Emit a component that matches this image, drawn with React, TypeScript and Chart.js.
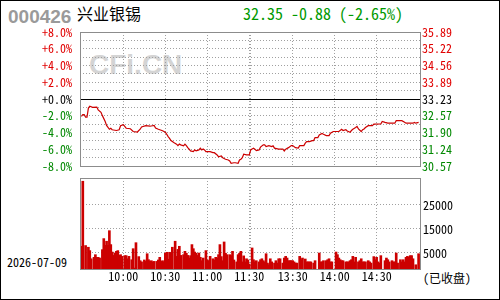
import React, { useEffect, useRef } from 'react';
import { Chart, registerables } from 'chart.js';

Chart.register(...registerables);

const MONO = '"Noto Sans Mono CJK SC", "Liberation Mono", monospace';
const RED = '#e00000';
const GREEN = '#008800';
const GRID = '#a0a0a0';
const BOX = '#8c8c8c';
const LINE_RED = '#cc0000';

const stockCode = '000426';
const stockName = '兴业银锡';
const quoteText = '32.35 -0.88 (-2.65%)';
const tradeDate = '2026-07-09';
const closedText = '(已收盘)';
const watermarkText = 'CFi.CN';
const prevClose = 33.23;

const pctTicks = [8, 6, 4, 2, 0, -2, -4, -6, -8];
const pctLabels = ['+8.0%', '+6.0%', '+4.0%', '+2.0%', '+0.0%', '-2.0%', '-4.0%', '-6.0%', '-8.0%'];
const priceLabels = ['35.89', '35.22', '34.56', '33.89', '33.23', '32.57', '31.90', '31.24', '30.57'];
const pctGrid = [8, 7, 6, 5, 4, 3, 2, 1, 0, -1, -2, -3, -4, -5, -6, -7, -8];

// minute slots: 0 = 09:30, 120 = 11:30, 121 = 13:00, 241 = 15:00
const timeSlots = [30, 60, 90, 120, 121, 151, 181, 211];
const timeLabels = ['10:00', '10:30', '11:00', '11:30', '', '13:30', '14:00', '14:30'];

const volTicks = [5000, 15000, 25000];
const volAxisMin = -1667;
const volAxisMax = 36250;

const priceSlots = [
  0, 1, 2, 3, 4, 5, 6, 8, 11, 12, 14, 15, 17, 18, 20, 21, 22, 25, 27, 28,
  30, 32, 35, 37, 40, 42, 43, 46, 49, 52, 53, 55, 58, 60, 61, 62, 63, 64, 65, 66,
  68, 69, 70, 71, 73, 74, 75, 76, 77, 78, 80, 81, 82, 84, 85, 86, 87, 88, 89, 92,
  94, 95, 97, 98, 100, 101, 103, 105, 106, 107, 109, 110, 112, 113, 114, 115, 116, 118, 120,
  121, 122, 123, 124, 125, 127, 128, 130, 131, 132, 134, 136, 137, 138, 141, 144, 145, 146, 148, 150,
  151, 153, 155, 156, 159, 160, 161, 163, 165, 166, 167, 169, 170, 172, 173, 175, 177, 178, 180, 184,
  186, 187, 189, 190, 192, 193, 194, 196, 197, 198, 200, 201, 202, 203, 205, 208, 209, 214, 215, 217,
  219, 224, 225, 229, 231, 232, 237, 238, 239, 241,
];
const prices = [
  32.54, 32.61, 32.61, 32.51, 32.51, 32.87, 32.94, 32.90, 32.91, 32.80, 32.70, 32.57, 32.34, 32.18, 32.03, 32.07, 32.01, 31.98, 32.01, 32.17,
  32.21, 32.07, 32.05, 31.94, 31.92, 32.03, 32.12, 32.17, 32.15, 32.18, 32.08, 32.03, 31.97, 31.91, 31.83, 31.74, 31.67, 31.58, 31.54, 31.50,
  31.44, 31.38, 31.44, 31.41, 31.37, 31.44, 31.38, 31.30, 31.24, 31.17, 31.14, 31.21, 31.17, 31.21, 31.28, 31.21, 31.25, 31.21, 31.14, 31.14,
  31.10, 31.10, 31.01, 30.94, 30.97, 30.90, 30.84, 30.81, 30.77, 30.68, 30.70, 30.70, 30.68, 30.81, 30.84, 30.90, 31.04, 31.01, 31.01,
  31.21, 31.25, 31.28, 31.24, 31.18, 31.21, 31.32, 31.41, 31.41, 31.34, 31.38, 31.34, 31.37, 31.28, 31.24, 31.24, 31.17, 31.24, 31.30, 31.38,
  31.38, 31.30, 31.28, 31.38, 31.38, 31.48, 31.54, 31.54, 31.58, 31.58, 31.70, 31.70, 31.80, 31.86, 31.83, 31.78, 31.78, 31.87, 31.94, 31.94,
  32.03, 31.98, 32.01, 31.96, 31.91, 31.98, 32.03, 32.10, 32.14, 32.04, 31.94, 32.01, 32.04, 32.10, 32.17, 32.17, 32.23, 32.24, 32.34, 32.30,
  32.27, 32.27, 32.37, 32.37, 32.31, 32.27, 32.27, 32.30, 32.27, 32.30,
];

const volSlots = [
  0, 1, 3, 5, 6, 7, 9, 10, 11, 12, 13, 15, 16, 17, 18, 19, 20, 21, 22, 23,
  24, 25, 26, 27, 28, 29, 31, 32, 33, 34, 36, 37, 38, 39, 41, 42, 43, 45, 46, 47,
  48, 49, 50, 51, 52, 54, 55, 56, 57, 58, 59, 60, 61, 62, 63, 64, 65, 67, 68, 69,
  70, 71, 73, 74, 75, 76, 77, 78, 79, 80, 81, 82, 83, 84, 85, 86, 87, 89, 90, 91,
  92, 94, 95, 96, 97, 98, 99, 100, 101, 102, 103, 104, 106, 107, 108, 109, 111, 112, 113, 114,
  115, 116, 117, 118, 119, 120,
  122, 123, 124, 125, 127, 128, 129, 130, 131, 132, 133, 134, 135, 136, 138, 139, 140, 141, 142, 144,
  145, 146, 147, 148, 149, 150, 151, 152, 153, 154, 156, 157, 158, 160, 161, 162, 163, 164, 166, 167,
  170, 171, 172, 173, 175, 176, 177, 178, 179, 182, 183, 184, 185, 186, 187, 189, 190, 191, 192, 193,
  194, 195, 196, 198, 199, 200, 201, 202, 203, 205, 206, 207, 209, 210, 211, 212, 213, 214, 217, 218,
  219, 220, 222, 223, 224, 225, 226, 228, 229, 230, 231, 232, 233, 234, 235, 236, 237, 239, 241,
];
const volumes = [
  7800, 34900, 8100, 7400, 6000, 2600, 3200, 4300, 3200, 3200, 2900, 6400, 11000, 8200, 9900, 8200, 14300, 8500, 5400, 4000,
  5000, 5700, 6000, 4000, 4300, 3600, 3900, 3900, 2600, 3600, 2200, 6800, -1300, 9300, 3500, 1800, 1300, 2100, 1500, 4700,
  2200, 1500, 1800, 1300, 1500, 1500, 2100, 3200, 1500, 1800, 1300, 4900, 5300, 2400, 5300, 5000, 7400, 9900, 3600, 6500,
  7800, 4000, 4300, 5700, 4900, 4000, 2900, 3900, 8500, 6800, 5400, 4900, 4000, 5000, 3200, 1800, 2900, 6000, 2100, 1800,
  3600, 2600, 2100, 3200, 2900, 4300, 8500, 3500, 1800, 9600, 4900, 4300, 4300, 3900, 5700, 2100, 1300, 4300, 4900, 5700,
  1300, 3800, 1300, 2600, 2100, 400,
  7100, 2200, 1300, 1800, 1300, 2200, 2600, 1800, 1300, 4700, 800, 100, 2600, 1300, 800, 1800, 800, 2600, 2600, 800,
  2900, 3600, 2900, 1800, 1800, 1800, 1800, 1300, 800, 800, 3600, 2200, 2900, 2500, 1300, 1300, 1300, 1300, 800, 1800,
  5000, 1300, 1300, 1800, 1800, 2200, 2600, 1300, 1300, 5400, 4300, 2900, 2200, 1800, 1800, 1300, 1300, 1300, 1800, 2200,
  3600, 1300, 3200, 1300, 1800, 2600, 1300, 1300, 1300, 1800, 1300, 800, 3500, 2200, 3200, 1300, 800, 3900, 1800, 2900,
  2200, 1300, 1800, 1300, 1300, 5000, 800, 2200, 1300, 2200, 1300, 3200, 3600, 3200, 3900, 3900, 2600, 100, 4700,
];

const tickFont = { family: MONO, size: 12 };

const fixWidth = (w: number) => (scale: any) => {
  scale.width = w;
};
const fixHeight = (h: number) => (scale: any) => {
  scale.height = h;
};

const boxPlugin = {
  id: 'boxFrame',
  afterDraw(chart: any) {
    const { ctx, chartArea: a } = chart;
    ctx.save();
    ctx.strokeStyle = BOX;
    ctx.lineWidth = 1;
    ctx.setLineDash([]);
    ctx.strokeRect(Math.round(a.left) + 0.5, Math.round(a.top) + 0.5, Math.round(a.right - a.left), Math.round(a.bottom - a.top));
    ctx.restore();
  },
};

const zeroLinePlugin = {
  id: 'zeroLine',
  beforeDatasetsDraw(chart: any) {
    const scale = chart.scales.yPct;
    if (!scale) return;
    const { ctx, chartArea: a } = chart;
    const y = Math.round(scale.getPixelForValue(0)) + 0.5;
    ctx.save();
    ctx.strokeStyle = '#000000';
    ctx.lineWidth = 1;
    ctx.beginPath();
    ctx.moveTo(a.left, y);
    ctx.lineTo(a.right, y);
    ctx.stroke();
    ctx.restore();
  },
};

const signColor = (v: number) => (v > 0.0001 ? RED : v < -0.0001 ? GREEN : '#000000');

export default function App() {
  const priceRef = useRef<HTMLCanvasElement>(null);
  const volRef = useRef<HTMLCanvasElement>(null);

  useEffect(() => {
    const timeGrid = (scale: any) => {
      scale.ticks = timeSlots.map((v) => ({ value: v }));
    };

    const priceChart = new Chart(priceRef.current as HTMLCanvasElement, {
      type: 'line',
      data: {
        datasets: [
          {
            data: priceSlots.map((s, i) => ({ x: s, y: prices[i] })),
            yAxisID: 'yPrice',
            xAxisID: 'x',
            borderColor: LINE_RED,
            borderWidth: 1.2,
            pointRadius: 0,
            tension: 0,
            fill: false,
          },
        ],
      },
      options: {
        responsive: false,
        animation: false,
        events: [],
        layout: { padding: { top: 32, bottom: 134, left: 0, right: 0 } },
        plugins: { legend: { display: false }, tooltip: { enabled: false }, title: { display: false } },
        scales: {
          x: {
            type: 'linear',
            min: -1,
            max: 242,
            afterBuildTicks: timeGrid,
            afterFit: fixHeight(0),
            ticks: { display: false, autoSkip: false },
            grid: { color: GRID, lineWidth: 1, drawTicks: false },
            border: { display: false, dash: [1, 2] },
          },
          yPct: {
            type: 'linear',
            position: 'left',
            min: -8,
            max: 8,
            afterBuildTicks: (scale: any) => {
              scale.ticks = pctGrid.map((v) => ({ value: v }));
            },
            afterFit: fixWidth(80),
            ticks: {
              autoSkip: false,
              padding: 8,
              font: tickFont,
              color: (ctx: any) => signColor(ctx.tick.value),
              callback: (value: any) => {
                const i = pctTicks.indexOf(Number(value));
                return i >= 0 ? pctLabels[i] : '';
              },
            },
            grid: { color: GRID, lineWidth: 1, drawTicks: false },
            border: { display: false, dash: [1, 2] },
          },
          yPrice: {
            type: 'linear',
            position: 'right',
            min: prevClose * 0.92,
            max: prevClose * 1.08,
            afterBuildTicks: (scale: any) => {
              scale.ticks = pctTicks.map((p) => ({ value: prevClose * (1 + p / 100) }));
            },
            afterFit: fixWidth(80),
            ticks: {
              autoSkip: false,
              padding: 2,
              font: tickFont,
              color: (ctx: any) => signColor(ctx.tick.value - prevClose),
              callback: (_v: any, i: number) => priceLabels[i],
            },
            grid: { display: false, drawTicks: false },
            border: { display: false },
          },
        },
      },
      plugins: [zeroLinePlugin, boxPlugin],
    });

    const volChart = new Chart(volRef.current as HTMLCanvasElement, {
      type: 'bar',
      data: {
        datasets: [
          {
            data: volSlots.map((s, i) => ({ x: s, y: volumes[i] })),
            base: volAxisMin,
            backgroundColor: LINE_RED,
            borderWidth: 0,
            barThickness: 2,
            xAxisID: 'x',
            yAxisID: 'y',
          } as any,
        ],
      },
      options: {
        responsive: false,
        animation: false,
        events: [],
        layout: { padding: { top: 178, bottom: 11, left: 80, right: 0 } },
        plugins: { legend: { display: false }, tooltip: { enabled: false }, title: { display: false } },
        scales: {
          x: {
            type: 'linear',
            min: -1,
            max: 242,
            offset: false,
            afterBuildTicks: timeGrid,
            afterFit: fixHeight(20),
            ticks: {
              autoSkip: false,
              maxRotation: 0,
              padding: 0,
              font: tickFont,
              color: '#000000',
              callback: (value: any) => {
                const i = timeSlots.indexOf(Number(value));
                return i >= 0 ? timeLabels[i] : '';
              },
            },
            grid: { color: GRID, lineWidth: 1, drawTicks: false, offset: false },
            border: { display: false, dash: [1, 2] },
          },
          y: {
            type: 'linear',
            position: 'right',
            min: volAxisMin,
            max: volAxisMax,
            afterBuildTicks: (scale: any) => {
              scale.ticks = volTicks.map((v) => ({ value: v }));
            },
            afterFit: fixWidth(80),
            ticks: {
              autoSkip: false,
              padding: 3,
              font: tickFont,
              color: '#000000',
              callback: (value: any) => String(value),
            },
            grid: { color: GRID, lineWidth: 1, drawTicks: false },
            border: { display: false, dash: [1, 2] },
          },
        },
      },
      plugins: [boxPlugin],
    });

    return () => {
      priceChart.destroy();
      volChart.destroy();
    };
  }, []);

  const abs: React.CSSProperties = { position: 'absolute', whiteSpace: 'nowrap', margin: 0 };

  return (
    <div style={{ position: 'fixed', left: 0, top: 0, width: 500, height: 300, background: '#ffffff', overflow: 'hidden' }}>
      <div
        style={{
          ...abs,
          left: 89,
          top: 51,
          fontFamily: '"Liberation Sans", Arial, sans-serif',
          fontWeight: 'bold',
          fontSize: 28,
          lineHeight: '28px',
          color: '#d4d4d4',
        }}
      >
        {watermarkText}
      </div>
      <div
        style={{
          ...abs,
          left: 8,
          top: 7,
          fontFamily: '"Liberation Sans", Arial, sans-serif',
          fontWeight: 'bold',
          fontSize: 19,
          lineHeight: '19px',
          color: '#9a9a9a',
        }}
      >
        {stockCode}
      </div>
      <div
        style={{
          ...abs,
          left: 77,
          top: 5,
          fontFamily: '"Noto Sans CJK SC", sans-serif',
          fontSize: 16,
          lineHeight: '16px',
          color: '#000000',
        }}
      >
        {stockName}
      </div>
      <div
        style={{
          ...abs,
          left: 243,
          top: 5,
          fontFamily: MONO,
          fontSize: 16,
          lineHeight: '16px',
          color: '#009900',
        }}
      >
        {quoteText}
      </div>
      <div style={{ ...abs, left: 7, top: 256, fontFamily: MONO, fontSize: 12, lineHeight: '12px', color: '#000000' }}>
        {tradeDate}
      </div>
      <div style={{ ...abs, left: 423, top: 272, fontFamily: MONO, fontSize: 12, lineHeight: '12px', color: '#000000' }}>
        {closedText}
      </div>
      <canvas ref={priceRef} width={500} height={300} style={{ position: 'absolute', left: 0, top: 0 }} />
      <canvas ref={volRef} width={500} height={300} style={{ position: 'absolute', left: 0, top: 0 }} />
      <div
        style={{
          position: 'absolute',
          left: 0,
          top: 0,
          width: 500,
          height: 300,
          boxSizing: 'border-box',
          border: '1px solid #000000',
          pointerEvents: 'none',
        }}
      />
    </div>
  );
}
